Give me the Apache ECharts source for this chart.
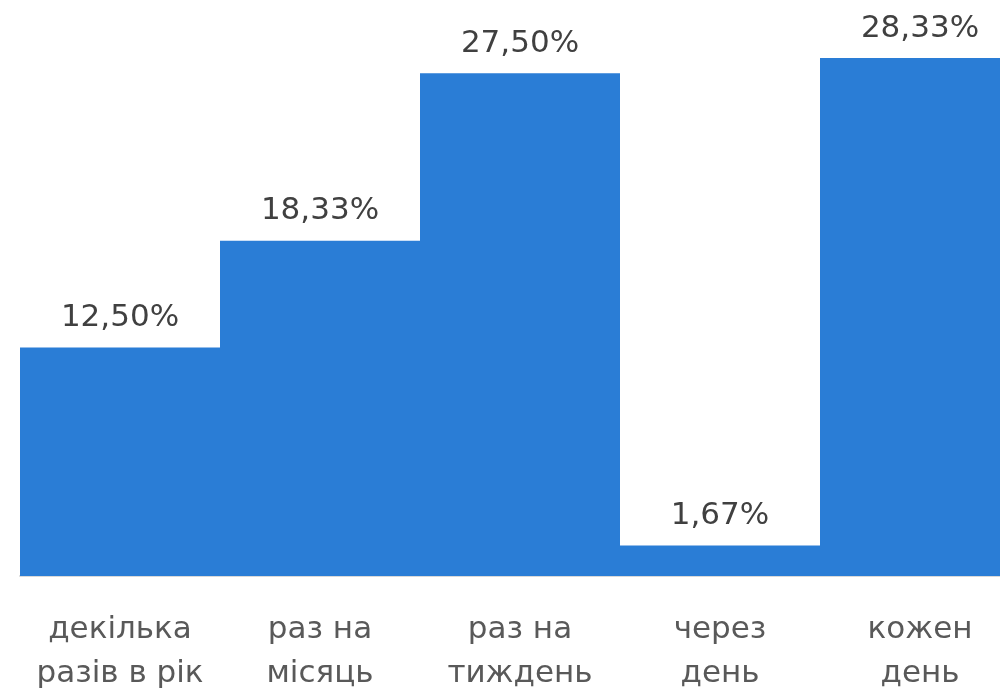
<!DOCTYPE html>
<html>
<head>
<meta charset="utf-8">
<script src="https://cdn.jsdelivr.net/npm/echarts@6/dist/echarts.min.js"></script>
<style>
  html, body { margin: 0; padding: 0; background: #fff; overflow: hidden; }
  /* права частина графіка обрізана, як на оригіналі */
  #chart { width: 1020px; height: 690px; }
</style>
</head>
<body>
<div id="chart"></div>
<script>
// категорії та значення (%)
const categories = ["декілька\nразів в рік", "раз на\nмісяць", "раз на\nтиждень", "через\nдень", "кожен\nдень"];
const values = [12.5, 18.33, 27.5, 1.67, 28.33];

const myChart = echarts.init(document.querySelector("#chart"));
const option = {
  animation: false,
  grid: { left: 20, right: 0, top: 0, bottom: 114, outerBoundsMode: "none", containLabel: false },
  xAxis: {
    type: "category",
    data: categories,
    axisTick: { show: false },
    axisLine: { lineStyle: { color: "#d9d9d9", width: 2 } },
    axisLabel: {
      interval: 0,
      color: "#595959",
      fontFamily: "DejaVu Sans",
      fontSize: 31,
      lineHeight: 44,
      margin: 32,
    },
  },
  yAxis: {
    type: "value",
    min: 0,
    max: 31.5,
    show: false,
    splitLine: { show: false },
  },
  series: [
    {
      type: "bar",
      data: values,
      barWidth: "100%",
      barCategoryGap: 0,
      itemStyle: { color: "#2a7dd6" },
      label: {
        show: true,
        position: "top",
        distance: 14,
        color: "#404040",
        fontFamily: "DejaVu Sans",
        fontSize: 31,
        formatter: (p) => p.value.toFixed(2).replace(".", ",") + "%",
      },
    },
  ],
};
myChart.setOption(option);
</script>
</body>
</html>
